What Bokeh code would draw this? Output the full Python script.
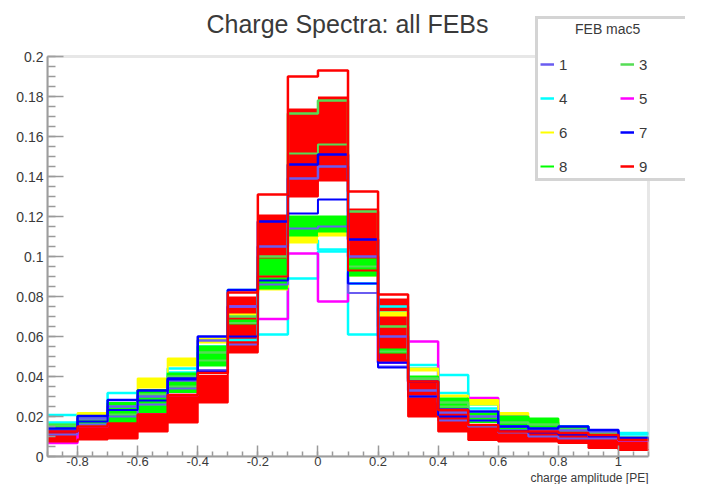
from bokeh.plotting import figure
from bokeh.models import Range1d, FixedTicker, Legend, LegendItem, Title, Label, BoxAnnotation
from bokeh.embed import file_html
from bokeh.resources import INLINE

# ---------------- data (bin edges and per-FEB channel spectra) ----------------
edges = [-0.9, -0.8, -0.7, -0.6, -0.5, -0.4, -0.3, -0.2, -0.1, 0.0, 0.1,
         0.2, 0.3, 0.4, 0.5, 0.6, 0.7, 0.8, 0.9, 1.0, 1.1]

feb_labels = ["1", "3", "4", "5", "6", "7", "8", "9"]
legend_title = "FEB mac5"

# FEB 9 (red): spread of channels (low / high envelope) and the highest channel
feb9_lo = [0.0075, 0.0085, 0.0090, 0.0125, 0.0170, 0.0270, 0.0520, 0.0900, 0.1300, 0.1380,
           0.0930, 0.0480, 0.0200, 0.0125, 0.0083, 0.0075, 0.0075, 0.0067, 0.0042, 0.0033]
feb9_hi = [0.0125, 0.0150, 0.0165, 0.0210, 0.0308, 0.0408, 0.0800, 0.1210, 0.1740, 0.1800,
           0.1240, 0.0790, 0.0375, 0.0233, 0.0158, 0.0125, 0.0125, 0.0117, 0.0108, 0.0083]
feb9_max = [0.0125, 0.0150, 0.0165, 0.0210, 0.0308, 0.0417, 0.0820, 0.1310, 0.1900, 0.1930,
            0.1325, 0.0810, 0.0375, 0.0233, 0.0158, 0.0125, 0.0125, 0.0117, 0.0108, 0.0083]

# FEB 4 (cyan) channels
feb4_a = [0.0208, 0.0180, 0.0317, 0.0330, 0.0440, 0.0550, 0.0833, 0.0610, 0.0890, 0.1025,
          0.0610, 0.0750, 0.0458, 0.0408, 0.0260, 0.0195, 0.0170, 0.0150, 0.0125, 0.0117]
feb4_b = [0.0170, 0.0175, 0.0260, 0.0320, 0.0420, 0.0520, 0.0583, 0.0920, 0.1080, 0.1035,
          0.0865, 0.0720, 0.0440, 0.0317, 0.0240, 0.0180, 0.0160, 0.0150, 0.0120, 0.0110]

# FEB 5 (magenta) channel
feb5_a = [0.0067, 0.0150, 0.0170, 0.0215, 0.0308, 0.0430, 0.0750, 0.0687, 0.1015, 0.0775,
          0.0920, 0.0470, 0.0575, 0.0270, 0.0292, 0.0200, 0.0160, 0.0120, 0.0100, 0.0080]

# FEB 6 (yellow) channel spread
feb6_lo = [0.0150, 0.0195, 0.0250, 0.0340, 0.0450, 0.0565, 0.0700, 0.0830, 0.1065, 0.1100,
           0.0900, 0.0700, 0.0425, 0.0295, 0.0255, 0.0205, 0.0175, 0.0125, 0.0105, 0.0085]
feb6_hi = [0.0155, 0.0217, 0.0260, 0.0390, 0.0490, 0.0590, 0.0710, 0.0845, 0.1100, 0.1120,
           0.0920, 0.0720, 0.0440, 0.0305, 0.0283, 0.0217, 0.0185, 0.0130, 0.0105, 0.0085]

# FEB 8 (green) channel spread
feb8_lo = [0.0133, 0.0150, 0.0167, 0.0217, 0.0317, 0.0450, 0.0660, 0.0835, 0.1100, 0.1120,
           0.0900, 0.0515, 0.0380, 0.0240, 0.0167, 0.0135, 0.0125, 0.0117, 0.0108, 0.0085]
feb8_hi = [0.0160, 0.0190, 0.0267, 0.0333, 0.0415, 0.0550, 0.0680, 0.0985, 0.1200, 0.1200,
           0.0985, 0.0535, 0.0400, 0.0290, 0.0215, 0.0200, 0.0190, 0.0145, 0.0108, 0.0085]

# FEB 3 (light green) channels
feb3_hi = [0.0155, 0.0185, 0.0250, 0.0310, 0.0400, 0.0520, 0.0700, 0.1000, 0.1715, 0.1780,
           0.1225, 0.0650, 0.0390, 0.0270, 0.0200, 0.0170, 0.0160, 0.0135, 0.0115, 0.0095]
feb3_lo = [0.0140, 0.0160, 0.0210, 0.0260, 0.0350, 0.0480, 0.0667, 0.0900, 0.1515, 0.1560,
           0.0950, 0.0525, 0.0385, 0.0250, 0.0180, 0.0150, 0.0140, 0.0120, 0.0105, 0.0088]

# FEB 7 (blue) channels
feb7_hi = [0.0140, 0.0203, 0.0283, 0.0330, 0.0390, 0.0600, 0.0833, 0.1175, 0.1460, 0.1510,
           0.1085, 0.0470, 0.0375, 0.0235, 0.0225, 0.0150, 0.0140, 0.0150, 0.0133, 0.0092]
feb7_lo = [0.0125, 0.0175, 0.0233, 0.0280, 0.0385, 0.0425, 0.0600, 0.0880, 0.1215, 0.1285,
           0.0865, 0.0445, 0.0300, 0.0200, 0.0180, 0.0130, 0.0120, 0.0110, 0.0100, 0.0085]

# FEB 1 (violet blue) channels
feb1_hi = [0.0130, 0.0190, 0.0250, 0.0300, 0.0380, 0.0580, 0.0750, 0.1050, 0.1390, 0.1450,
           0.1000, 0.0600, 0.0330, 0.0220, 0.0200, 0.0150, 0.0130, 0.0130, 0.0125, 0.0092]
feb1_lo = [0.0110, 0.0160, 0.0200, 0.0260, 0.0340, 0.0433, 0.0560, 0.0860, 0.1140, 0.1150,
           0.0817, 0.0450, 0.0300, 0.0180, 0.0150, 0.0120, 0.0100, 0.0090, 0.0090, 0.0080]

x_major = [-0.8, -0.6, -0.4, -0.2, 0.0, 0.2, 0.4, 0.6, 0.8, 1.0]
x_labels = ["-0.8", "-0.6", "-0.4", "-0.2", "0", "0.2", "0.4", "0.6", "0.8", "1"]
y_major = [0.0, 0.02, 0.04, 0.06, 0.08, 0.1, 0.12, 0.14, 0.16, 0.18, 0.2]
y_labels = ["0", "0.02", "0.04", "0.06", "0.08", "0.1", "0.12", "0.14", "0.16", "0.18", "0.2"]
x_minor = [round(-0.9 + 0.05 * i, 3) for i in range(41)]
y_minor = [round(0.005 * i, 4) for i in range(41)]

x_lo, x_hi = -0.9, 1.1      # histogram axis range
y_lo, y_hi = 0.0, 0.2

colors = {"1": "#6a5cf0", "3": "#55dd55", "4": "#00ffff", "5": "#ff00ff",
          "6": "#ffff00", "7": "#0000ff", "8": "#00ff00", "9": "#ff0000"}

FONT = "Liberation Sans"
TXT = "#3a3a3a"
GRAY = "#b0b0b0"


def ext(v):
    return list(v) + [v[-1]]


# the plotting frame runs up to the canvas top/right so that the legend box,
# which overhangs the histogram frame, is not clipped; the histogram frame
# itself is drawn as a box on the axis range.
p = figure(width=685, height=484, output_backend="svg", toolbar_location=None,
           x_range=Range1d(x_lo, 1.2231), y_range=Range1d(y_lo, 0.228),
           min_border_left=47, min_border_right=0, min_border_top=0, min_border_bottom=28)
p.xgrid.visible = False
p.ygrid.visible = False
p.outline_line_color = None
p.background_fill_color = "white"
p.border_fill_color = "white"

LW = 2.5


def band(lo, hi, c):
    p.varea_step(x=edges, y1=ext(lo), y2=ext(hi), step_mode="after", fill_color=c)


def line(v, c, w=LW):
    return p.step(x=edges, y=ext(v), mode="after", line_color=c, line_width=w)


# red spread first, other FEBs show on top of it where they stick out
band(feb9_lo, feb9_hi, colors["9"])
r4 = line(feb4_a, colors["4"])
line(feb4_b, colors["4"])
r5 = line(feb5_a, colors["5"])
band(feb6_lo, feb6_hi, colors["6"])
r6 = line(feb6_hi, colors["6"], 2)
band(feb8_lo, feb8_hi, colors["8"])
r8 = line(feb8_hi, colors["8"], 2)
r3 = line(feb3_hi, colors["3"])
line(feb3_lo, colors["3"], 2)
r1 = line(feb1_hi, colors["1"])
line(feb1_lo, colors["1"], 2)
r7 = line(feb7_hi, colors["7"])
line(feb7_lo, colors["7"], 2)
r9 = line(feb9_max, colors["9"])
line(feb9_lo, colors["9"], 2)

# histogram frame
p.add_layout(BoxAnnotation(left=x_lo, right=x_hi, bottom=y_lo, top=y_hi,
                           fill_alpha=0, line_color=GRAY, line_width=3))

# axes
p.xaxis.ticker = FixedTicker(ticks=x_major, minor_ticks=x_minor)
p.yaxis.ticker = FixedTicker(ticks=y_major, minor_ticks=y_minor)
p.xaxis.major_label_overrides = dict(zip(x_major, x_labels))
p.yaxis.major_label_overrides = dict(zip(y_major, y_labels))
p.xaxis.bounds = (x_lo, x_hi)
p.yaxis.bounds = (y_lo, y_hi)
for ax in (p.xaxis, p.yaxis):
    ax.axis_line_color = "#9a9a9a"
    ax.axis_line_width = 2
    ax.major_tick_line_color = "#9a9a9a"
    ax.minor_tick_line_color = "#9a9a9a"
    ax.major_tick_line_width = 1.5
    ax.minor_tick_line_width = 1.5
    ax.major_tick_out = 0
    ax.minor_tick_out = 0
    ax.major_label_text_font = FONT
    ax.major_label_text_color = TXT
p.xaxis.major_label_text_font_size = "13px"
p.yaxis.major_label_text_font_size = "14px"
p.xaxis.major_tick_in = 11
p.xaxis.minor_tick_in = 5
p.yaxis.major_tick_in = 16
p.yaxis.minor_tick_in = 8
p.xaxis.major_label_standoff = 0
p.yaxis.major_label_standoff = 4

# x axis title, right aligned at the histogram's right edge
p.add_layout(Title(text="charge amplitude [PE]", align="right", text_font=FONT,
                   text_font_size="12px", text_font_style="normal", text_color=TXT,
                   standoff=0, offset=37), "below")

# chart title
p.add_layout(Label(x=300, y=433, x_units="screen", y_units="screen",
                   text="Charge Spectra: all FEBs", text_align="center", text_baseline="middle",
                   text_font=FONT, text_font_size="25px", text_color=TXT))

rmap = {"1": r1, "3": r3, "4": r4, "5": r5, "6": r6, "7": r7, "8": r8, "9": r9}
items = [LegendItem(label=k, renderers=[rmap[k]]) for k in feb_labels]
# legend header is indented with no-break spaces so that it sits centred over the box
legend = Legend(items=items, location=(488, 275), orientation="horizontal", ncols=2,
                title="\u00a0" * 9 + legend_title, title_text_font=FONT,
                title_text_font_size="14px", title_text_font_style="normal",
                title_text_color=TXT, title_standoff=17,
                label_text_font=FONT, label_text_font_size="15px", label_text_color=TXT,
                glyph_width=14, glyph_height=20, label_height=20, label_width=47,
                label_standoff=5, spacing=14, padding=2, margin=0,
                border_line_color="#aaaaaa", border_line_width=3,
                background_fill_color="white", background_fill_alpha=1.0)
p.add_layout(legend)

open("out.html", "w").write(file_html(p, INLINE))
